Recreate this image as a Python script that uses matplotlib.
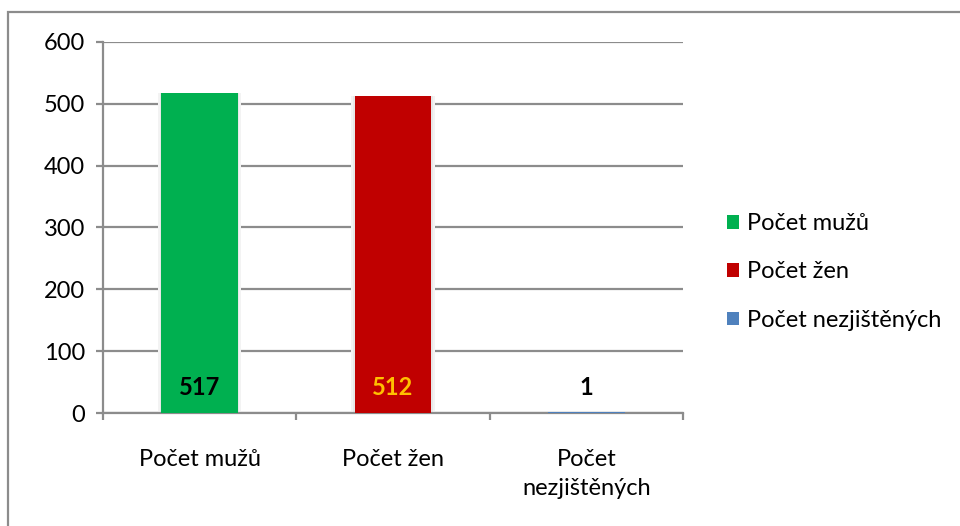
import matplotlib
matplotlib.use("Agg")
import matplotlib.pyplot as plt
from matplotlib.patches import Rectangle, Patch
import numpy as np

plt.rcParams['font.family'] = ['Lato', 'DejaVu Sans']

categories = ["Počet mužů", "Počet žen", "Počet nezjištěných"]
tick_labels = ["Počet mužů", "Počet žen", "Počet\nnezjištěných"]
values = [517, 512, 1]
colors = ["#00B050", "#C00000", "#4F81BD"]
label_colors = ["#000000", "#FFC000", "#000000"]

W, H = 960, 526
fig = plt.figure(figsize=(W / 100, H / 100), dpi=100)
ax = fig.add_axes([103 / W, 1 - 413 / H, (683 - 103) / W, (413 - 42) / H])

grid_c = "#8C8C8C"
FS = 17
x = np.arange(len(values))
# soft shadow
ax.bar(x, values, width=0.43, color="#F3F3F3", zorder=2)
ax.bar(x, values, width=0.41, color="#E8E8E8", zorder=2)
bars = ax.bar(x, values, width=0.395, color=colors, zorder=3)

for xi, v, c in zip(x, values, label_colors):
    ax.text(xi, 42, str(v), ha="center", va="center", fontsize=FS,
            fontweight="bold", color=c, zorder=4)

ax.set_xlim(-0.5, len(values) - 0.5)
ax.set_ylim(0, 600)
ax.set_yticks(np.arange(0, 601, 100))
ax.yaxis.grid(True, color=grid_c, linewidth=1.6, zorder=1)
ax.set_axisbelow(True)
for s in ["top", "right"]:
    ax.spines[s].set_visible(False)
for s in ["left", "bottom"]:
    ax.spines[s].set_color(grid_c)
    ax.spines[s].set_linewidth(1.6)

ax.set_xticks(x)
ax.set_xticklabels(tick_labels, fontsize=FS, va="top", linespacing=1.45)
ax.tick_params(axis="x", which="major", length=0, pad=26)
ax.set_xticks(np.arange(-0.5, len(values), 1.0), minor=True)
ax.tick_params(axis="x", which="minor", length=5, width=1.6, color=grid_c)
ax.tick_params(axis="y", length=5, width=1.6, color=grid_c, labelsize=FS, pad=8)

handles = [Patch(facecolor=c, edgecolor="none") for c in colors]
leg = fig.legend(handles, categories, loc="center left",
                 bbox_to_anchor=(706 / W, 1 - 272 / H), frameon=False,
                 fontsize=FS, handlelength=0.5, handleheight=0.5,
                 handletextpad=0.35, labelspacing=1.15)

fig.patches.append(Rectangle((8 / W, -0.1), 1.2, (1 - 11.5 / H) + 0.1,
                             transform=fig.transFigure, fill=False,
                             edgecolor=grid_c, linewidth=1.6))

fig.savefig("out.png", dpi=100)
